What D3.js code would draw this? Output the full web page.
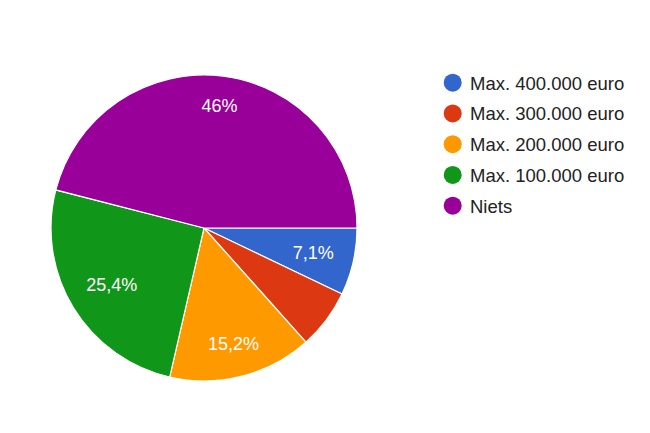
<!DOCTYPE html>
<html><head><meta charset="utf-8">
<script src="https://cdn.jsdelivr.net/npm/d3@7"></script>
<style>body{margin:0;background:#fff}svg{display:block}</style>
</head><body>
<svg id="c" width="650" height="433"></svg>
<script>
const categories = ["Max. 400.000 euro","Max. 300.000 euro","Max. 200.000 euro","Max. 100.000 euro","Niets"];
const values = [7.1, 6.3, 15.2, 25.4, 46.0];
const labels = ["7,1%", "", "15,2%", "25,4%", "46%"];
const colors = ["#3366cc","#dc3912","#ff9900","#109618","#990099"];

const svg = d3.select("#c");
const cx = 204, cy = 228, R = 153;
const font = "Arial, 'Liberation Sans', sans-serif";

const pie = d3.pie().sort(null).value(d => d)
  .startAngle(Math.PI/2).endAngle(Math.PI/2 + 2*Math.PI);
const arcs = pie(values);
const arc = d3.arc().innerRadius(0).outerRadius(R);

const g = svg.append("g").attr("transform", `translate(${cx},${cy})`);
g.selectAll("path").data(arcs).join("path")
  .attr("d", arc).attr("fill", (d,i) => colors[i])
  .attr("stroke", "#fff").attr("stroke-width", 1.2);

const fs = 18, cap = fs*0.716, Rl = R*0.872;
arcs.forEach((a,i) => {
  if (!labels[i]) return;
  const t = g.append("text").text(labels[i])
    .attr("font-family", font).attr("font-size", fs).attr("fill", "#fff")
    .attr("text-anchor", "middle");
  const w = t.node().getComputedTextLength();
  const m = (a.startAngle + a.endAngle)/2;
  const ux = Math.sin(m), uy = -Math.cos(m);
  const c = [Math.sign(ux)*w/2, Math.sign(uy)*cap/2];
  const uc = ux*c[0] + uy*c[1];
  const d = -uc + Math.sqrt(uc*uc - (c[0]*c[0]+c[1]*c[1]) + Rl*Rl);
  t.attr("x", d*ux).attr("y", d*uy + cap/2);
});

const lg = svg.append("g");
const ly = d3.scalePoint().domain(categories).range([82.7, 205.7]);
categories.forEach((c,i) => {
  lg.append("circle").attr("cx", 452.7).attr("cy", ly(c)).attr("r", 9).attr("fill", colors[i]);
  lg.append("text").attr("x", 470).attr("y", ly(c) + 6.8).text(c)
    .attr("font-family", font).attr("font-size", 18.5).attr("fill", "#222");
});
</script>
</body></html>
